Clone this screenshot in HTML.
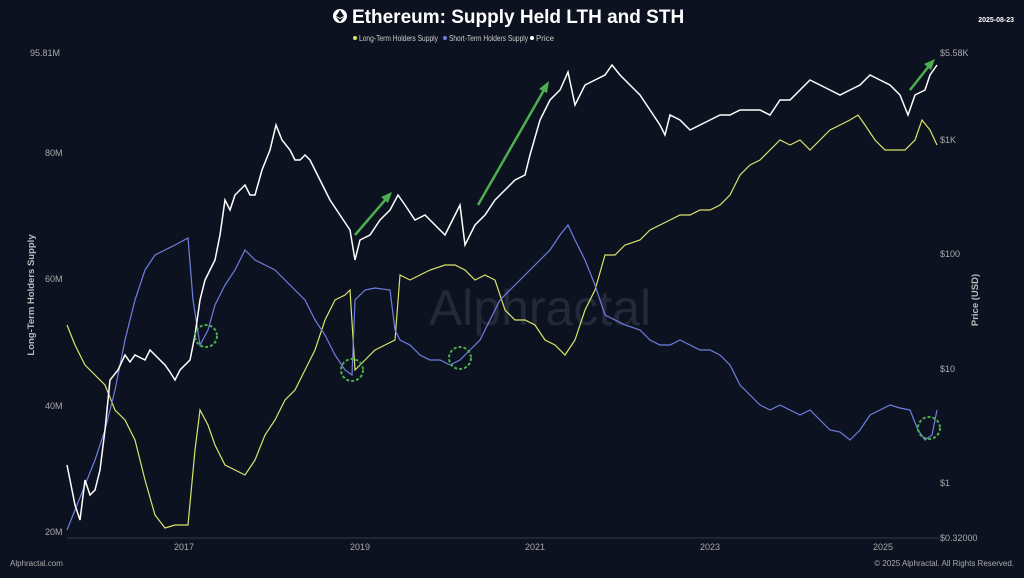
<!DOCTYPE html>
<html><head><meta charset="utf-8"><style>
html,body{margin:0;padding:0;background:#0d1220;width:1024px;height:578px;overflow:hidden}
svg{display:block;font-family:"Liberation Sans",sans-serif}
</style></head><body>
<svg width="1024" height="578" viewBox="0 0 1024 578">
<rect width="1024" height="578" fill="#0d1220"/>
<text x="540" y="325" fill="#232938" font-size="50" text-anchor="middle">Alphractal</text>
<circle cx="340" cy="16" r="7" fill="#fff"/>
<path d="M340 10 L336 16 L340 18 L344 16 Z M336 17 L340 22 L344 17 L340 19 Z" fill="#0d1220"/>
<text x="352" y="23" fill="#fff" font-size="19" font-weight="bold">Ethereum: Supply Held LTH and STH</text>
<text x="1014" y="22" fill="#fff" font-size="7" font-weight="bold" text-anchor="end">2025-08-23</text>
<g font-size="8" fill="#ccc">
<circle cx="355" cy="38" r="2" fill="#d9e36a"/><text x="359" y="41" textLength="79" lengthAdjust="spacingAndGlyphs">Long-Term Holders Supply</text>
<circle cx="445" cy="38" r="2" fill="#6f7fe0"/><text x="449" y="41" textLength="79" lengthAdjust="spacingAndGlyphs">Short-Term Holders Supply</text>
<circle cx="532" cy="38" r="2" fill="#fff"/><text x="536" y="41" textLength="18" lengthAdjust="spacingAndGlyphs">Price</text>
</g>
<g font-size="9" fill="#aaa">
<text x="30" y="56">95.81M</text><text x="45" y="156">80M</text><text x="45" y="282">60M</text><text x="45" y="409">40M</text><text x="45" y="535">20M</text>
<text x="940" y="56">$5.58K</text><text x="940" y="143">$1K</text><text x="940" y="257">$100</text><text x="940" y="372">$10</text><text x="940" y="486">$1</text><text x="940" y="541">$0.32000</text>
<text x="184" y="550" text-anchor="middle">2017</text><text x="360" y="550" text-anchor="middle">2019</text><text x="535" y="550" text-anchor="middle">2021</text><text x="710" y="550" text-anchor="middle">2023</text><text x="883" y="550" text-anchor="middle">2025</text>
<text x="10" y="566" font-size="8">Alphractal.com</text>
<text x="1014" y="566" font-size="8" text-anchor="end">© 2025 Alphractal. All Rights Reserved.</text>
</g>
<text transform="translate(34,295) rotate(-90)" fill="#bbb" font-size="9.5" font-weight="bold" text-anchor="middle">Long-Term Holders Supply</text>
<text transform="translate(978,300) rotate(-90)" fill="#bbb" font-size="9.5" font-weight="bold" text-anchor="middle">Price (USD)</text>
<line x1="67" y1="538" x2="940" y2="538" stroke="#333a48" stroke-width="1"/>
<polyline fill="none" stroke="#d9e36a" stroke-width="1.2" points="67,325 75,345 85,365 95,375 105,385 115,410 125,420 135,440 145,480 155,515 165,528 175,525 188,525 195,450 200,410 208,425 215,445 225,465 235,470 245,475 255,460 265,435 275,420 285,400 295,390 305,370 315,350 325,320 335,300 345,295 350,290 355,370 365,360 375,350 385,345 395,340 400,275 410,280 420,275 430,270 445,265 455,265 465,270 475,280 485,275 495,280 505,310 515,320 525,320 535,325 545,340 555,345 565,355 575,340 585,310 595,290 605,255 615,255 625,245 640,240 650,230 660,225 670,220 680,215 690,215 700,210 710,210 720,205 730,195 740,175 750,165 760,160 770,150 780,140 790,145 800,140 810,150 820,140 830,130 840,125 850,120 858,115 865,125 875,140 885,150 895,150 905,150 915,140 922,120 930,130 937,145"/>
<polyline fill="none" stroke="#6f7fe0" stroke-width="1.2" points="67,530 75,510 85,485 95,460 105,430 115,390 125,340 135,300 145,270 155,255 165,250 175,245 188,238 193,300 200,345 208,330 215,305 225,285 235,270 245,250 255,260 265,265 275,270 285,280 295,290 305,300 315,320 325,335 335,355 345,370 352,375 355,300 365,290 375,288 390,290 395,330 400,340 410,345 420,355 430,360 440,360 450,365 460,360 470,350 480,340 490,320 500,300 510,290 520,280 530,270 540,260 550,250 560,235 568,225 575,240 585,260 595,285 605,315 615,320 625,325 640,330 650,340 660,345 670,345 680,340 690,345 700,350 710,350 720,355 730,365 740,385 750,395 760,405 770,410 780,405 790,410 800,415 810,410 820,420 830,430 840,432 850,440 860,430 870,415 880,410 890,405 900,408 910,410 918,430 925,440 932,435 937,410"/>
<polyline fill="none" stroke="#fff" stroke-width="1.5" points="67,465 72,490 75,505 80,520 85,480 90,495 95,490 100,470 105,430 110,380 118,370 125,355 130,362 135,355 145,360 150,350 155,355 165,365 170,372 175,380 180,370 190,360 195,335 200,300 205,280 210,270 215,260 220,235 225,200 230,210 235,195 240,190 245,185 250,195 255,195 262,170 270,150 276,125 282,140 290,150 295,160 300,160 305,155 310,160 320,180 330,200 340,215 350,230 355,260 360,240 370,235 380,220 390,210 398,195 405,205 415,220 425,215 435,225 445,235 455,215 460,205 465,245 475,225 485,215 495,200 505,190 515,180 525,175 530,155 540,120 550,100 560,90 568,72 575,105 580,95 585,85 595,80 605,75 612,65 620,75 630,85 640,95 650,110 660,125 665,135 670,115 680,120 690,130 700,125 710,120 720,115 730,115 740,110 750,110 760,110 770,115 780,100 790,100 800,90 810,80 820,85 830,90 840,95 850,90 860,85 870,75 880,80 890,85 900,95 908,115 915,95 925,90 930,75 937,65"/>
<g stroke="#4caf50" stroke-width="2.5" fill="#4caf50">
<line x1="355" y1="235" x2="386" y2="199"/><polygon stroke="none" points="392,192 381,197 388,203"/>
<line x1="478" y1="205" x2="544" y2="90"/><polygon stroke="none" points="549,81 539,89 547,93"/>
<line x1="910" y1="90" x2="929" y2="66"/><polygon stroke="none" points="935,59 924,64 931,70"/>
</g>
<g fill="none" stroke="#4caf50" stroke-width="2" stroke-dasharray="3,2">
<circle cx="206" cy="336" r="11"/><circle cx="352" cy="370" r="11"/><circle cx="460" cy="358" r="11"/><circle cx="929" cy="428" r="11"/>
</g>
</svg>
</body></html>
